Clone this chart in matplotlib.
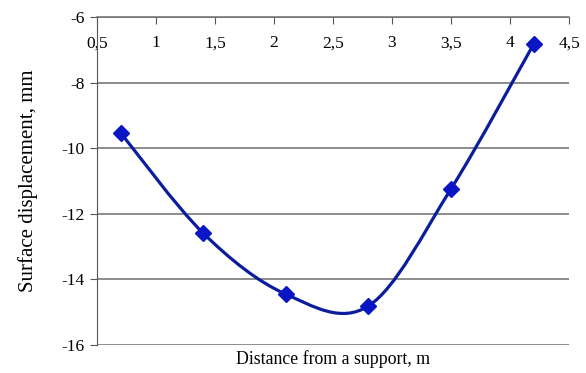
import matplotlib
matplotlib.use("Agg")
import matplotlib.pyplot as plt
from matplotlib.path import Path
from matplotlib.patches import PathPatch
from matplotlib.ticker import FuncFormatter, MultipleLocator

# data
distance = [0.7, 1.4, 2.1, 2.8, 3.5, 4.2]
displacement = [-9.53, -12.59, -14.45, -14.81, -11.24, -6.83]

x_label = "Distance from a support, m"
y_label = "Surface displacement, mm"

plt.rcParams['font.family'] = ['Liberation Serif', 'DejaVu Serif']
plt.rcParams['axes.unicode_minus'] = False

fig = plt.figure(figsize=(5.86, 3.73), dpi=100)
ax = fig.add_axes([0.1655, 0.075, 0.8055, 0.8795])

line_col = '#0b1c9c'
mark_col = '#0a16c4'

# smoothed line like Excel: catmull-rom control points -> cubic bezier
pts = list(zip(distance, displacement))
verts = [pts[0]]
codes = [Path.MOVETO]
n = len(pts)
for i in range(n - 1):
    p0 = pts[i - 1] if i > 0 else pts[i]
    p1 = pts[i]
    p2 = pts[i + 1]
    p3 = pts[i + 2] if i + 2 < n else pts[i + 1]
    c1 = (p1[0] + (p2[0] - p0[0]) / 6, p1[1] + (p2[1] - p0[1]) / 6)
    c2 = (p2[0] - (p3[0] - p1[0]) / 6, p2[1] - (p3[1] - p1[1]) / 6)
    verts += [c1, c2, p2]
    codes += [Path.CURVE4] * 3
ax.add_patch(PathPatch(Path(verts, codes), facecolor='none', edgecolor=line_col,
                       lw=2.3, zorder=3))
ax.plot(distance, displacement, linestyle='none', marker='D', ms=8.5,
        color=mark_col, zorder=4)

ax.set_xlim(0.5, 4.5)
ax.set_ylim(-16, -6)
ax.xaxis.set_major_locator(MultipleLocator(0.5))
ax.yaxis.set_major_locator(MultipleLocator(2))
ax.xaxis.set_major_formatter(FuncFormatter(lambda v, p: f"{v:g}".replace('.', ',')))

ax.grid(axis='y', color='#6e6e6e', lw=1.1)
ax.set_axisbelow(True)
for s in ['right', 'bottom']:
    ax.spines[s].set_visible(False)
ax.spines['left'].set_color('#555555')
ax.spines['top'].set_color('#6e6e6e')
ax.spines['top'].set_linewidth(1.1)

ax.tick_params(axis='x', top=True, labeltop=True, bottom=False, labelbottom=False,
               direction='in', length=5, color='#555555', labelsize=12.5, pad=-19)
for lbl in ax.get_xticklabels():
    lbl.set_va('center')
ax.tick_params(axis='y', direction='out', length=5, color='#555555', labelsize=12.5, pad=4)

ax.set_xlabel(x_label, fontsize=12.8)
ax.xaxis.set_label_position('bottom')
ax.xaxis.labelpad = 4
ax.set_ylabel(y_label, fontsize=15, labelpad=17)

fig.savefig('out.png', dpi=100)
